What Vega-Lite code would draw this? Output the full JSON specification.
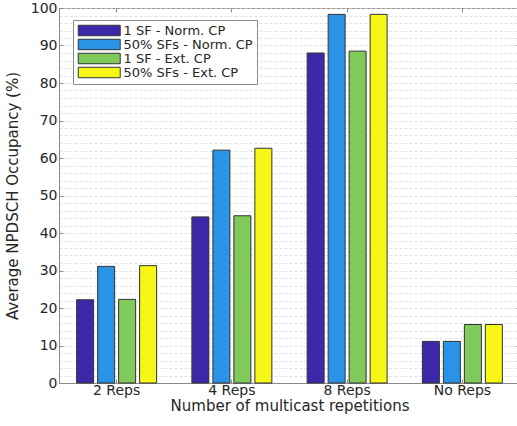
{
  "$schema": "https://vega.github.io/schema/vega-lite/v6.json",
  "width": 461,
  "height": 375,
  "autosize": {"type": "none"},
  "padding": {"left": 59, "top": 8, "right": -3, "bottom": 43},
  "background": "white",
  "config": {
    "font": "DejaVu Sans",
    "view": {"stroke": "#8a8a8a", "strokeWidth": 1},
    "axis": {
      "labelColor": "#262626",
      "titleColor": "#262626",
      "labelFont": "DejaVu Sans",
      "titleFont": "DejaVu Sans",
      "labelFontSize": 14,
      "titleFontSize": 15,
      "titleFontWeight": "normal",
      "domainColor": "#8a8a8a",
      "tickColor": "#8a8a8a"
    }
  },
  "data": {
    "values": [
      {"reps": "2 Reps", "series": "1 SF - Norm. CP", "occ": 22.2},
      {"reps": "2 Reps", "series": "50% SFs - Norm. CP", "occ": 31.1},
      {"reps": "2 Reps", "series": "1 SF - Ext. CP", "occ": 22.3},
      {"reps": "2 Reps", "series": "50% SFs - Ext. CP", "occ": 31.3},
      {"reps": "4 Reps", "series": "1 SF - Norm. CP", "occ": 44.3},
      {"reps": "4 Reps", "series": "50% SFs - Norm. CP", "occ": 62.1},
      {"reps": "4 Reps", "series": "1 SF - Ext. CP", "occ": 44.6},
      {"reps": "4 Reps", "series": "50% SFs - Ext. CP", "occ": 62.6},
      {"reps": "8 Reps", "series": "1 SF - Norm. CP", "occ": 88.0},
      {"reps": "8 Reps", "series": "50% SFs - Norm. CP", "occ": 98.3},
      {"reps": "8 Reps", "series": "1 SF - Ext. CP", "occ": 88.5},
      {"reps": "8 Reps", "series": "50% SFs - Ext. CP", "occ": 98.3},
      {"reps": "No Reps", "series": "1 SF - Norm. CP", "occ": 11.1},
      {"reps": "No Reps", "series": "50% SFs - Norm. CP", "occ": 11.1},
      {"reps": "No Reps", "series": "1 SF - Ext. CP", "occ": 15.6},
      {"reps": "No Reps", "series": "50% SFs - Ext. CP", "occ": 15.6}
    ]
  },
  "resolve": {"axis": {"x": "independent", "y": "independent"}},
  "layer": [
    {
      "mark": {"type": "bar", "stroke": "#333333", "strokeWidth": 1},
      "encoding": {
        "x": {
          "field": "reps",
          "type": "nominal",
          "sort": ["2 Reps", "4 Reps", "8 Reps", "No Reps"],
          "scale": {"paddingInner": 0.306, "paddingOuter": 0.153},
          "axis": {
            "title": "Number of multicast repetitions",
            "labelAngle": 0,
            "tickSize": -4,
            "labelPadding": 4,
            "titlePadding": 1,
            "grid": false
          }
        },
        "xOffset": {
          "field": "series",
          "type": "nominal",
          "sort": ["1 SF - Norm. CP", "50% SFs - Norm. CP", "1 SF - Ext. CP", "50% SFs - Ext. CP"],
          "scale": {"paddingInner": 0.19, "paddingOuter": 0}
        },
        "y": {
          "field": "occ",
          "type": "quantitative",
          "scale": {"domain": [0, 100], "nice": false},
          "axis": {
            "title": "Average NPDSCH Occupancy (%)",
            "values": [0, 2, 4, 6, 8, 10, 12, 14, 16, 18, 20, 22, 24, 26, 28, 30, 32, 34, 36, 38, 40, 42, 44, 46, 48, 50, 52, 54, 56, 58, 60, 62, 64, 66, 68, 70, 72, 74, 76, 78, 80, 82, 84, 86, 88, 90, 92, 94, 96, 98, 100],
            "labelExpr": "datum.value % 10 === 0 ? datum.label : ''",
            "tickSize": -4,
            "tickOpacity": {"condition": {"test": "datum.value % 10 === 0", "value": 1}, "value": 0},
            "grid": true,
            "gridColor": "#d4d4d4",
            "gridDash": [3, 2],
            "gridWidth": 0.7,
            "labelPadding": 6,
            "titlePadding": 10
          }
        },
        "color": {
          "field": "series",
          "type": "nominal",
          "sort": ["1 SF - Norm. CP", "50% SFs - Norm. CP", "1 SF - Ext. CP", "50% SFs - Ext. CP"],
          "scale": {"range": ["#3c28a8", "#2993e5", "#7fca5a", "#f7f717"]},
          "legend": {
            "title": null,
            "orient": "none",
            "legendX": 14,
            "legendY": 12,
            "symbolType": "M-1,-1H7V1H-1Z",
            "symbolSize": 110,
            "symbolStrokeColor": "#333333",
            "symbolStrokeWidth": 1,
            "symbolOpacity": 1,
            "labelOffset": 33.5,
            "labelFontSize": 13,
            "labelColor": "#262626",
            "labelFont": "DejaVu Sans",
            "rowPadding": -2.5,
            "strokeColor": "#8a8a8a",
            "fillColor": "white",
            "padding": 4
          }
        }
      }
    },
    {
      "mark": {"type": "bar", "opacity": 0},
      "encoding": {
        "x": {
          "field": "reps",
          "type": "nominal",
          "sort": ["2 Reps", "4 Reps", "8 Reps", "No Reps"],
          "axis": {"orient": "top", "title": null, "labels": false, "domain": false, "tickSize": -4, "grid": false}
        },
        "y": {
          "field": "occ",
          "type": "quantitative",
          "axis": {"orient": "right", "title": null, "labels": false, "domain": false, "tickSize": -4, "grid": false, "values": [10, 20, 30, 40, 50, 60, 70, 80, 90]}
        }
      }
    }
  ]
}
